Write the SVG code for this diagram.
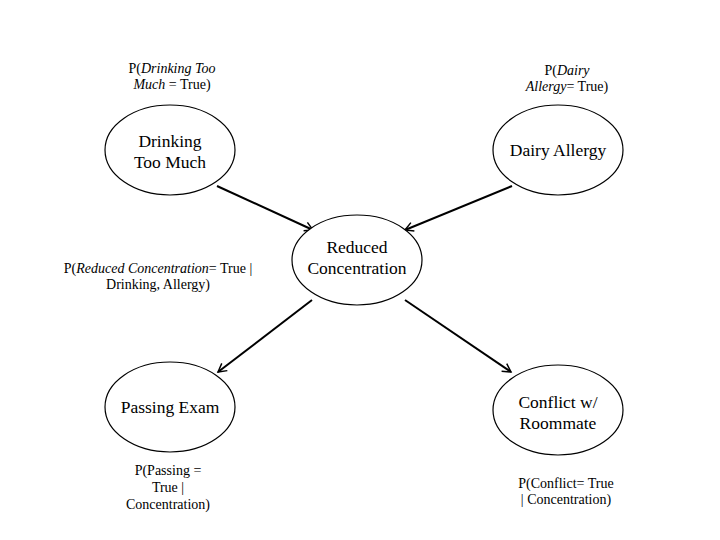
<svg xmlns="http://www.w3.org/2000/svg" width="720" height="540" viewBox="0 0 720 540">
<style>
.node ellipse{fill:#fff;stroke:#000;stroke-width:1.2}
.nl{font-family:"Liberation Serif","Times New Roman",serif;font-size:17.5px;fill:#000;text-anchor:middle}
.pl{font-family:"Liberation Serif","Times New Roman",serif;font-size:14px;fill:#000;text-anchor:middle}
.edge{stroke:#000;stroke-width:2;fill:none;marker-end:url(#arr)}
</style>
<defs>
<marker id="arr" viewBox="0 0 12 12" refX="10" refY="6" markerWidth="5.5" markerHeight="5.5" orient="auto" markerUnits="strokeWidth">
<path d="M1,1 L10,6 L1,11" fill="none" stroke="#000" stroke-width="1.6"/>
</marker>
</defs>
<rect width="720" height="540" fill="#fff"/>
<g id="connectors">
<line class="edge" x1="217" y1="186" x2="313" y2="230"/>
<line class="edge" x1="512" y1="186" x2="405" y2="230"/>
<line class="edge" x1="312" y1="300" x2="218" y2="372"/>
<line class="edge" x1="405" y1="300" x2="511" y2="372"/>
</g>
<g id="drinking" class="node">
<ellipse cx="170" cy="150" rx="65" ry="45"/>
<text class="nl" x="170" y="147">Drinking</text>
<text class="nl" x="170" y="168">Too Much</text>
</g>
<g id="dairy" class="node">
<ellipse cx="558" cy="150" rx="65" ry="45"/>
<text class="nl" x="558" y="156">Dairy Allergy</text>
</g>
<g id="reduced" class="node">
<ellipse cx="357" cy="260" rx="65" ry="45"/>
<text class="nl" x="357" y="253">Reduced</text>
<text class="nl" x="357" y="274">Concentration</text>
</g>
<g id="passing" class="node">
<ellipse cx="170" cy="407" rx="65" ry="45"/>
<text class="nl" x="170" y="413">Passing Exam</text>
</g>
<g id="conflict" class="node">
<ellipse cx="558" cy="410" rx="65" ry="45"/>
<text class="nl" x="558" y="408">Conflict w/</text>
<text class="nl" x="558" y="429">Roommate</text>
</g>
<g id="labels">
<text class="pl" x="172" y="73">P(<tspan font-style="italic">Drinking Too</tspan></text>
<text class="pl" x="172" y="89"><tspan font-style="italic">Much</tspan> = True)</text>
<text class="pl" x="567" y="75">P(<tspan font-style="italic">Dairy</tspan></text>
<text class="pl" x="567" y="91"><tspan font-style="italic">Allergy</tspan>= True)</text>
<text class="pl" x="158" y="273">P(<tspan font-style="italic">Reduced Concentration</tspan>= True |</text>
<text class="pl" x="158" y="289">Drinking, Allergy)</text>
<text class="pl" x="168" y="475">P(Passing =</text>
<text class="pl" x="168" y="492">True |</text>
<text class="pl" x="168" y="509">Concentration)</text>
<text class="pl" x="566" y="488">P(Conflict= True</text>
<text class="pl" x="566" y="504">| Concentration)</text>
</g>
</svg>
